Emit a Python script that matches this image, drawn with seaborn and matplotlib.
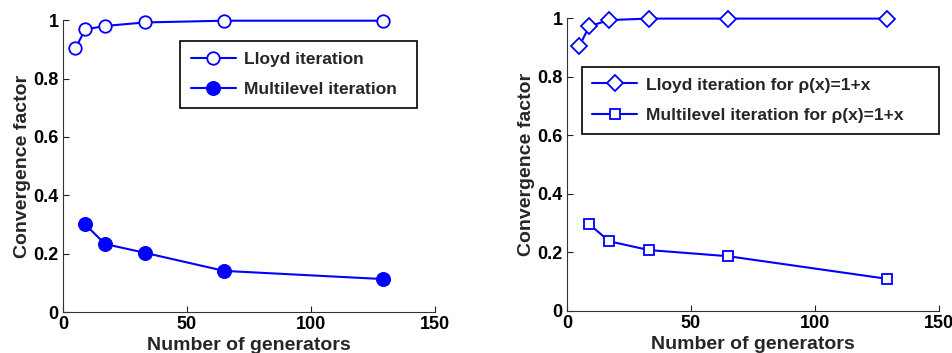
import numpy as np
import pandas as pd
import seaborn as sns
import matplotlib
matplotlib.use('Agg')
import matplotlib.pyplot as plt

# Данные
generators = [5, 9, 17, 33, 65, 129]
generators_ml = [9, 17, 33, 65, 129]

lloyd_left = [0.903, 0.968, 0.980, 0.992, 0.998, 0.998]
multi_left = [0.300, 0.233, 0.203, 0.141, 0.113]

lloyd_right = [0.905, 0.972, 0.993, 0.998, 0.998, 0.998]
multi_right = [0.296, 0.238, 0.208, 0.187, 0.110]

x_ticks = [0, 50, 100, 150]
y_ticks = [0, 0.2, 0.4, 0.6, 0.8, 1]
y_tick_labels = ['0', '0.2', '0.4', '0.6', '0.8', '1']

sns.set_style('ticks')
plt.rcParams['font.family'] = ['Liberation Sans', 'DejaVu Sans']
plt.rcParams['font.weight'] = 'bold'

blue = '#0000ff'

fig = plt.figure(figsize=(9.53, 3.53), dpi=100)
ax1 = fig.add_axes([0.066, 0.116, 0.3905, 0.827])
ax2 = fig.add_axes([0.595, 0.119, 0.390, 0.830])


def style_axes(ax):
    ax.set_xlim(0, 150)
    ax.set_ylim(0, 1)
    ax.set_xticks(x_ticks)
    ax.set_xticklabels([str(t) for t in x_ticks])
    ax.set_yticks(y_ticks)
    ax.set_yticklabels(y_tick_labels)
    ax.tick_params(direction='in', length=4, width=0.8, labelsize=13, pad=3, colors='#222222',
                   labelcolor='black')
    for s in ['top', 'right']:
        ax.spines[s].set_visible(False)
    for s in ['left', 'bottom']:
        ax.spines[s].set_linewidth(0.8)
        ax.spines[s].set_color('#333333')
    ax.set_xlabel('Number of generators', fontsize=14, fontweight='bold', labelpad=3)
    ax.set_ylabel('Convergence factor', fontsize=14, fontweight='bold', labelpad=2)
    for line in ax.get_lines():
        line.set_clip_on(False)


# Левый график
sns.lineplot(x=generators, y=lloyd_left, ax=ax1, color=blue, linewidth=1.5, marker='o',
             markersize=9, markerfacecolor='white', markeredgecolor=blue, markeredgewidth=1.3,
             label='Lloyd iteration')
sns.lineplot(x=generators_ml, y=multi_left, ax=ax1, color=blue, linewidth=1.5, marker='o',
             markersize=10, markerfacecolor=blue, markeredgecolor=blue,
             label='Multilevel iteration')
style_axes(ax1)
leg1 = ax1.legend(loc='upper left', bbox_to_anchor=(0.315, 0.702, 0.637, 0.226),
                  mode='expand', fontsize=12.5, frameon=True, fancybox=False,
                  edgecolor='black', handlelength=2.6, borderpad=0.6, labelspacing=0.9,
                  handletextpad=0.5, borderaxespad=0)
leg1.get_frame().set_linewidth(1.2)
leg1.get_frame().set_alpha(1)

# Правый график
sns.lineplot(x=generators, y=lloyd_right, ax=ax2, color=blue, linewidth=1.5, marker='D',
             markersize=8, markerfacecolor='white', markeredgecolor=blue, markeredgewidth=1.3,
             label='Lloyd iteration for ρ(x)=1+x')
sns.lineplot(x=generators_ml, y=multi_right, ax=ax2, color=blue, linewidth=1.5, marker='s',
             markersize=7.5, markerfacecolor='white', markeredgecolor=blue, markeredgewidth=1.3,
             label='Multilevel iteration for ρ(x)=1+x')
style_axes(ax2)
leg2 = ax2.legend(loc='upper left', bbox_to_anchor=(0.04, 0.608, 0.96, 0.225),
                  mode='expand', fontsize=12.5, frameon=True, fancybox=False,
                  edgecolor='black', handlelength=2.6, borderpad=0.6, labelspacing=0.9,
                  handletextpad=0.5, borderaxespad=0)
leg2.get_frame().set_linewidth(1.2)
leg2.get_frame().set_alpha(1)

fig.savefig('out.png', dpi=100)
